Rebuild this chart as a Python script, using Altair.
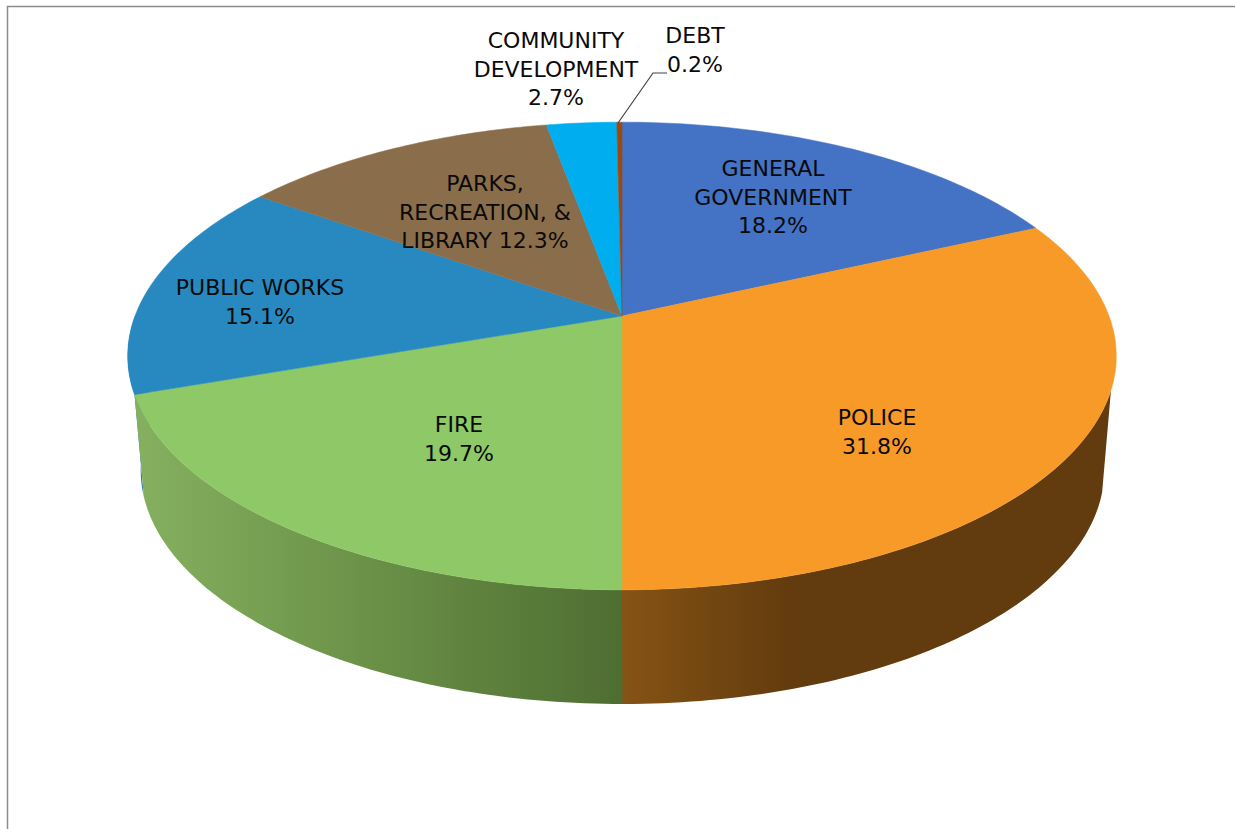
import math

import altair as alt
import pandas as pd

# Budget shares by department, clockwise from twelve o'clock.
departments = ["GENERAL GOVERNMENT", "POLICE", "FIRE", "PUBLIC WORKS",
               "PARKS, RECREATION, & LIBRARY", "COMMUNITY DEVELOPMENT", "DEBT"]
shares = [18.2, 31.8, 19.7, 15.1, 12.3, 2.7, 0.2]
face_colors = ["#4472C4", "#F79A27", "#8FC866", "#2789BF", "#8A6E4B", "#00AEEF", "#9E480E"]

# Text of each label, one entry per line; the share is appended by the code.
label_names = ["GENERAL\nGOVERNMENT", "POLICE", "FIRE", "PUBLIC WORKS",
               "PARKS,\nRECREATION, &\nLIBRARY", "COMMUNITY\nDEVELOPMENT", "DEBT"]
label_same_line = [False, False, False, False, True, False, False]
label_x = [773, 877, 459, 260, 485, 556, 695]
label_y = [169, 418, 425, 288, 184, 41, 36]

CANVAS_W, CANVAS_H = 1235, 829


def rim_point(pct, centre_x, centre_y, half_x, half_y, perspective):
    """Project a point of a disc's rim, given as a cumulative percentage."""
    theta = math.radians(pct * 3.6)
    denom = 1 + perspective * math.cos(theta)
    return (centre_x + half_x * math.sin(theta) / denom,
            centre_y - half_y * math.cos(theta) / denom)


def top_rim(pct):
    return rim_point(pct, 622.0, 316.0, 487.0, 227.0, 0.171)


def bottom_rim(pct):
    return rim_point(pct, 622.5, 418.6, 470.0, 222.6, 0.22)


# Cumulative extent of every slice.
edges = [0.0]
for s in shares:
    edges.append(edges[-1] + s)


def arc(start, end, per_pct=4):
    steps = max(2, int((end - start) * per_pct))
    return [start + (end - start) * k / steps for k in range(steps + 1)]


face_rows = []
for i, name in enumerate(departments):
    outline = [(622.0, 316.0)] + [top_rim(p) for p in arc(edges[i], edges[i + 1])] + [(622.0, 316.0)]
    for seq, (px, py) in enumerate(outline):
        face_rows.append({"shape": f"face{i}", "seq": seq, "px": px, "py": py, "tint": face_colors[i]})


def wall_rows(start, end):
    """Outline of a side wall: along the top rim, back along the bottom rim."""
    sweep = arc(start, end)
    pts = [top_rim(p) for p in sweep] + [bottom_rim(p) for p in reversed(sweep)]
    pts.append(pts[0])
    return pd.DataFrame([{"seq": n, "px": px, "py": py} for n, (px, py) in enumerate(pts)])


label_rows = []
for i, name in enumerate(label_names):
    sep = " " if label_same_line[i] else "\n"
    label_rows.append({"label": f"{name}{sep}{shares[i]}%", "px": label_x[i], "py": label_y[i]})

frame_rows = [{"seq": 0, "px": 7.5, "py": 829}, {"seq": 1, "px": 7.5, "py": 6.5}, {"seq": 2, "px": 1235, "py": 6.5}]
leader_rows = [{"seq": 0, "px": 618, "py": 123}, {"seq": 1, "px": 653, "py": 73}, {"seq": 2, "px": 667, "py": 73}]

x_enc = alt.X("px:Q", axis=None, scale=alt.Scale(domain=[0, CANVAS_W], nice=False, zero=False))
y_enc = alt.Y("py:Q", axis=None, scale=alt.Scale(domain=[CANVAS_H, 0], nice=False, zero=False))


def wall(start, end, fill):
    return alt.Chart(wall_rows(start, end)).mark_line(fill=fill, strokeOpacity=0, interpolate="linear").encode(
        x=x_enc, y=y_enc, order="seq:Q")


def shade(stops):
    return alt.Gradient(
        gradient="linear", x1=0, y1=0, x2=1, y2=0,
        stops=[alt.GradientStop(offset=o, color=c) for o, c in stops],
    )


# Side walls that face the viewer; the top face hides whatever lies behind it.
# The police wall runs slightly under the fire wall so no seam shows between them.
public_works_wall = wall(edges[3], 75.0, "#2B74AE")
fire_wall = wall(edges[2], edges[3], shade([(0, "#86B060"), (0.33, "#739B4F"), (1, "#4E6E31")]))
police_wall = wall(30.0, edges[2] + 0.2, shade([(0, "#875414"), (0.36, "#623B0E"), (1, "#623B0E")]))

faces = alt.Chart(pd.DataFrame(face_rows)).mark_line(strokeWidth=0.5, interpolate="linear").encode(
    x=x_enc, y=y_enc, order="seq:Q", detail="shape:N",
    fill=alt.Fill("tint:N", scale=None, legend=None),
    stroke=alt.Stroke("tint:N", scale=None, legend=None),
)

frame = alt.Chart(pd.DataFrame(frame_rows)).mark_line(color="#8C8C8C", strokeWidth=1.5).encode(
    x=x_enc, y=y_enc, order="seq:Q")
leader = alt.Chart(pd.DataFrame(leader_rows)).mark_line(color="#444444", strokeWidth=1.2).encode(
    x=x_enc, y=y_enc, order="seq:Q")
labels = alt.Chart(pd.DataFrame(label_rows)).mark_text(
    font="DejaVu Sans", fontSize=22, color="#0A0A0A", align="center", baseline="middle",
    lineBreak="\n", lineHeight=28.5,
).encode(x=x_enc, y=y_enc, text="label:N")

chart = alt.layer(frame, public_works_wall, police_wall, fire_wall, faces, leader, labels).properties(
    width=CANVAS_W, height=CANVAS_H, padding=0, background="white",
    autosize=alt.AutoSizeParams(type="none"),
).configure_view(stroke=None)

chart.save("out.html", embed_options={"renderer": "svg", "actions": False})
